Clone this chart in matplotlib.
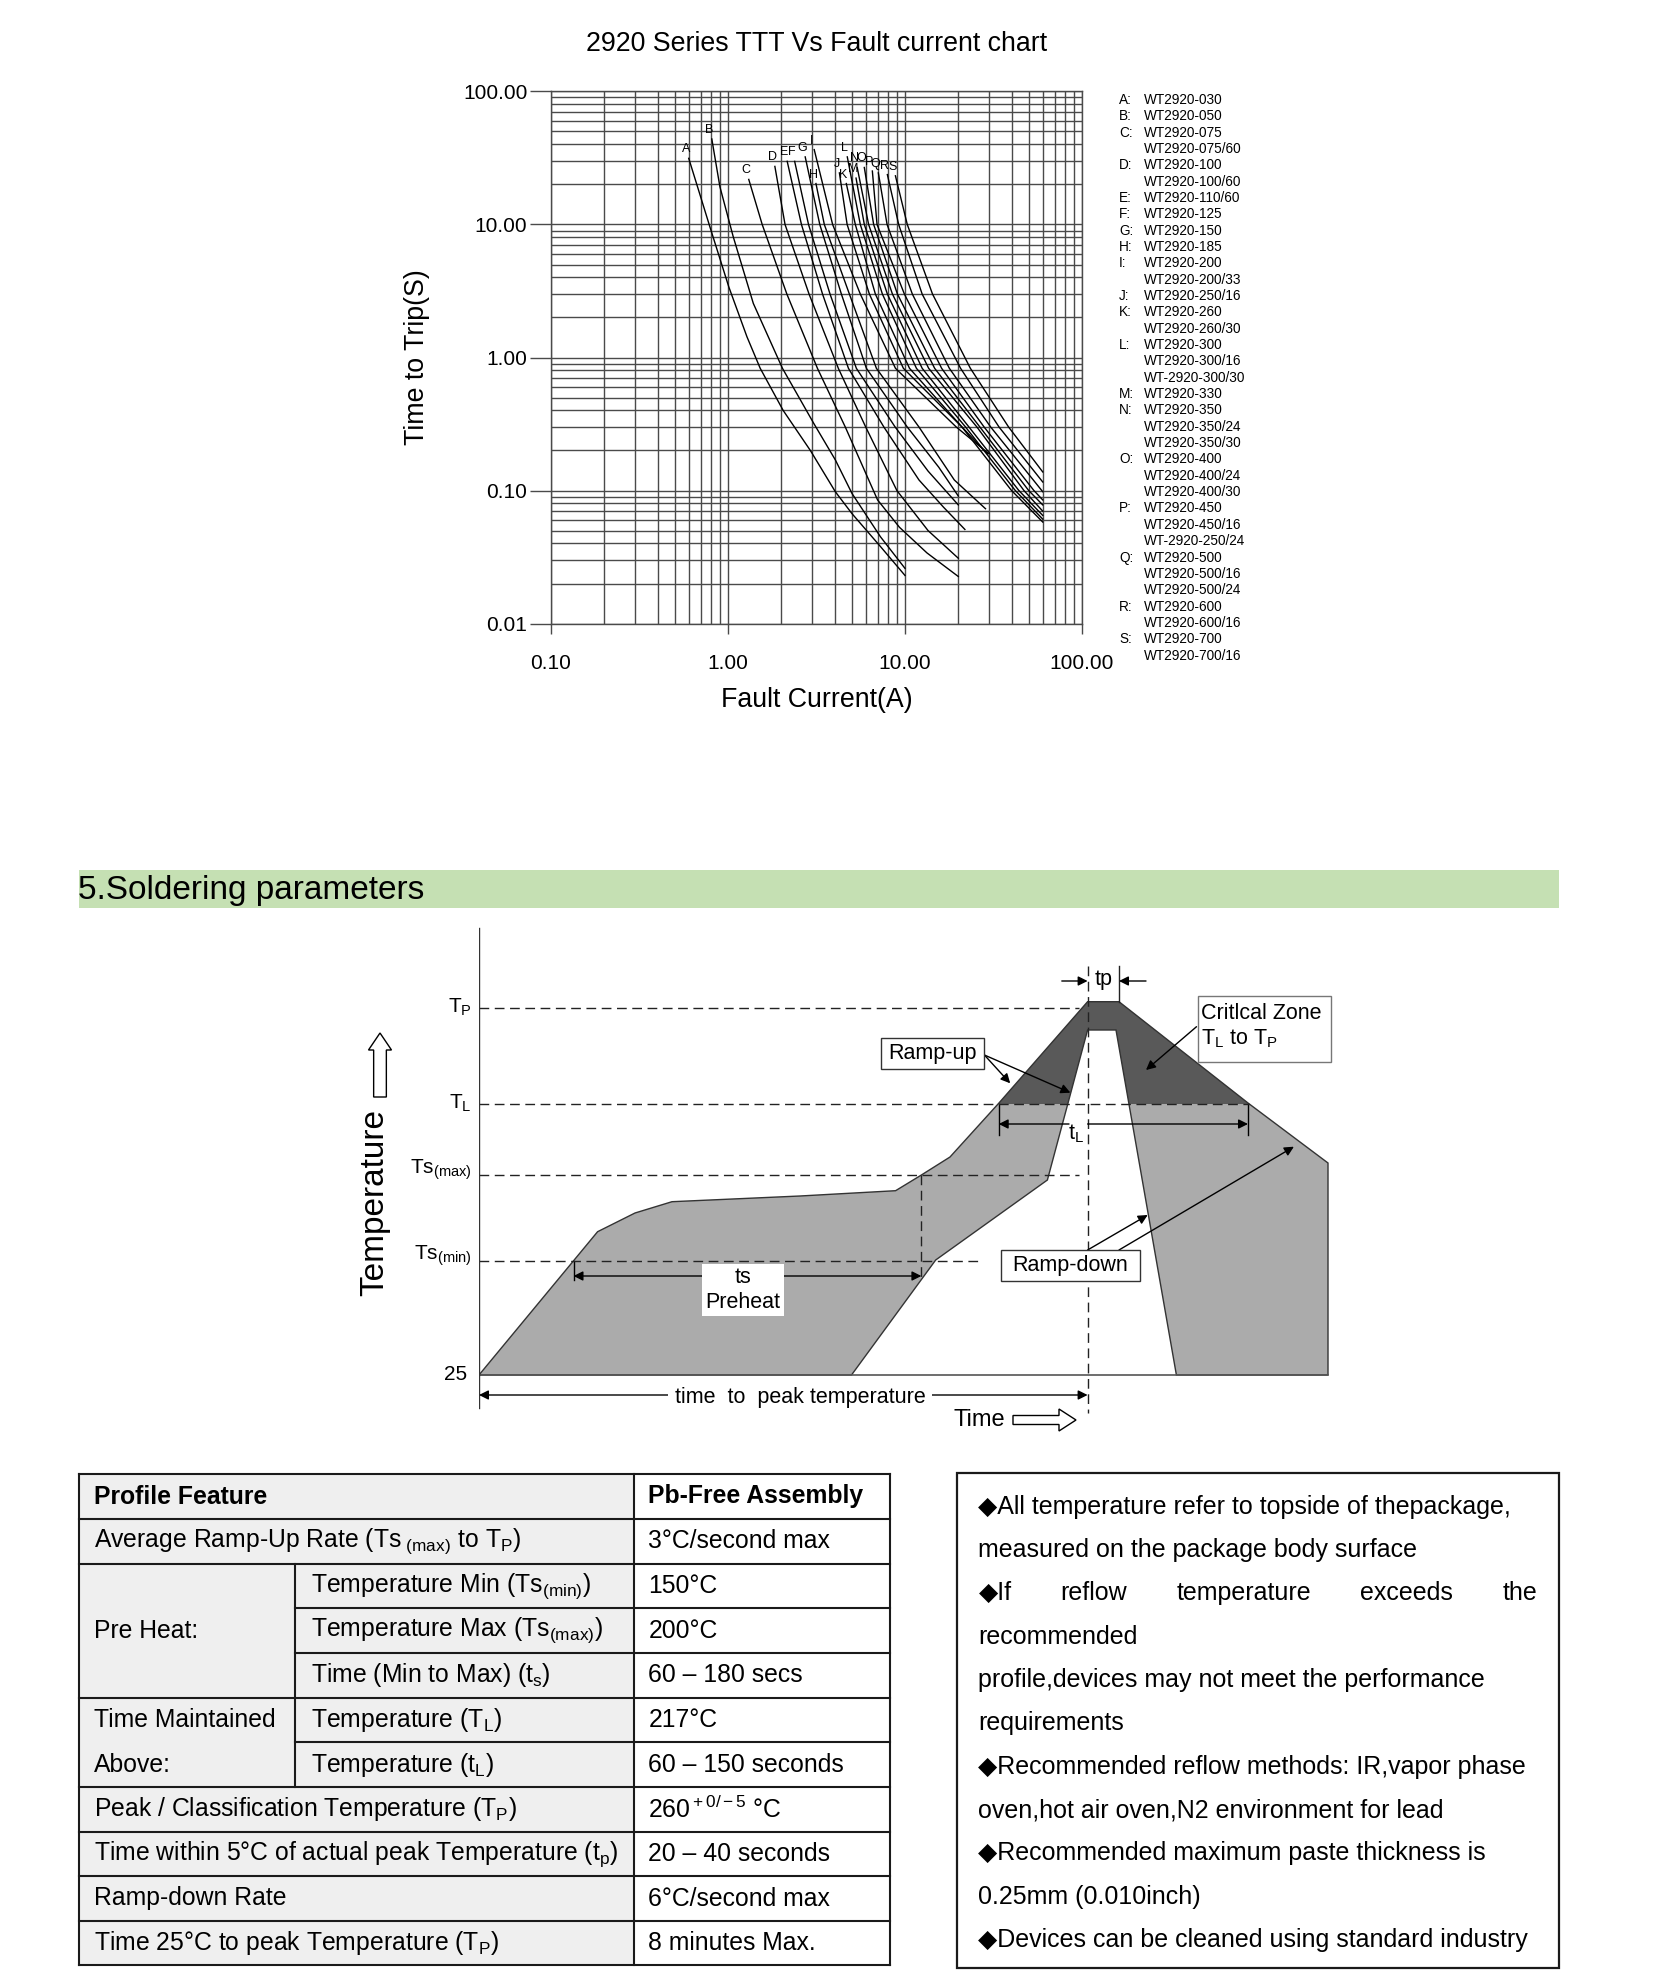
import numpy as np
import matplotlib
matplotlib.use("Agg")
import matplotlib.pyplot as plt
from matplotlib.patches import Rectangle, Polygon, FancyArrow
from matplotlib.ticker import NullFormatter

plt.rcParams["font.family"] = ["Liberation Sans", "DejaVu Sans"]
plt.rcParams["mathtext.fontset"] = "custom"
plt.rcParams["mathtext.rm"] = "Liberation Sans"
plt.rcParams["mathtext.it"] = "Liberation Sans:italic"
plt.rcParams["mathtext.bf"] = "Liberation Sans:bold"

W, H = 1653, 1984

# ---- trip curves: fault current (A) / time to trip (s)
a_current = [0.60, 0.79, 1.01, 1.28, 1.52, 2.05, 2.92, 4.04, 5.02, 7.26, 10.0]
a_time = [31.4, 9.6, 3.4, 1.43, 0.83, 0.40, 0.20, 0.098, 0.067, 0.038, 0.023]
b_current = [0.81, 0.90, 1.07, 1.39, 2.03, 3.05, 4.04, 5.02, 7.26, 10.0]
b_time = [43.9, 19.2, 8.1, 2.55, 0.83, 0.32, 0.17, 0.095, 0.045, 0.026]
c_current = [1.31, 1.56, 2.15, 3.2, 4.6, 7.0, 9.3, 13.3, 20.0]
c_time = [21.8, 10.0, 3.0, 0.83, 0.30, 0.085, 0.053, 0.034, 0.0226]
d_current = [1.84, 2.1, 2.87, 4.2, 6.0, 9.0, 13.5, 20.0]
d_time = [27.3, 10.0, 3.0, 0.83, 0.30, 0.10, 0.05, 0.031]
e_current = [2.16, 2.6, 3.42, 4.79, 7.6, 12.0, 16.5, 21.8]
e_time = [29.8, 10.0, 3.0, 0.83, 0.30, 0.12, 0.075, 0.051]
f_current = [2.38, 2.85, 3.77, 5.31, 8.8, 13.5, 20.0]
f_time = [29.8, 10.0, 3.0, 0.83, 0.30, 0.14, 0.078]
g_current = [2.73, 3.3, 4.37, 6.05, 10.3, 15.5, 20.0]
g_time = [32.2, 10.0, 3.0, 0.83, 0.30, 0.15, 0.091]
h_current = [3.14, 3.5, 4.85, 6.89, 12.0, 19.0, 28.5]
h_time = [20.3, 10.0, 3.0, 0.83, 0.30, 0.12, 0.073]
i_current = [3.07, 3.9, 5.59, 8.83, 19.5, 29.6]
i_time = [36.5, 10.0, 3.0, 0.83, 0.30, 0.19]
j_current = [4.26, 4.71, 6.29, 9.79, 21.0, 29.3]
j_time = [24.4, 10.0, 3.0, 0.83, 0.30, 0.188]
k_current = [4.66, 5.24, 6.80, 10.6, 21.0, 40.0, 60.0]
k_time = [20.3, 10.0, 3.0, 0.83, 0.30, 0.10, 0.058]
l_current = [4.72, 5.59, 7.45, 11.6, 22.0, 42.0, 60.0]
l_time = [32.2, 10.0, 3.0, 0.83, 0.30, 0.10, 0.061]
m_current = [5.29, 5.89, 7.95, 12.5, 23.0, 44.0, 60.0]
m_time = [22.3, 10.0, 3.0, 0.83, 0.30, 0.10, 0.065]
n_current = [5.37, 6.23, 8.49, 13.6, 25.5, 47.0, 60.0]
n_time = [26.8, 10.0, 3.0, 0.83, 0.30, 0.10, 0.070]
o_current = [5.89, 6.65, 9.06, 14.7, 26.5, 50.0, 60.0]
o_time = [26.8, 10.0, 3.0, 0.83, 0.30, 0.10, 0.078]
p_current = [6.54, 6.95, 9.92, 16.1, 28.0, 53.5, 60.0]
p_time = [25.2, 10.0, 3.0, 0.83, 0.30, 0.10, 0.085]
q_current = [7.07, 7.92, 11.0, 17.8, 30.5, 60.0]
q_time = [24.4, 10.0, 3.0, 0.83, 0.30, 0.098]
r_current = [7.95, 9.21, 12.5, 20.6, 34.0, 60.0]
r_time = [23.7, 10.0, 3.0, 0.83, 0.30, 0.116]
s_current = [8.83, 10.3, 14.3, 23.4, 38.5, 60.0]
s_time = [23.2, 10.0, 3.0, 0.83, 0.30, 0.138]

curves = [("A", a_current, a_time), ("B", b_current, b_time), ("C", c_current, c_time),
          ("D", d_current, d_time), ("E", e_current, e_time), ("F", f_current, f_time),
          ("G", g_current, g_time), ("H", h_current, h_time), ("I", i_current, i_time),
          ("J", j_current, j_time), ("K", k_current, k_time), ("L", l_current, l_time),
          ("M", m_current, m_time), ("N", n_current, n_time), ("O", o_current, o_time),
          ("P", p_current, p_time), ("Q", q_current, q_time), ("R", r_current, r_time),
          ("S", s_current, s_time)]

x_ticks = [0.1, 1, 10, 100]
x_tick_labels = ["0.10", "1.00", "10.00", "100.00"]
y_ticks = [0.01, 0.1, 1, 10, 100]
y_tick_labels = ["0.01", "0.10", "1.00", "10.00", "100.00"]

legend_letters = list("ABCDEFGHIJKLMNOPQRS")
legend_parts = [["WT2920-030"], ["WT2920-050"], ["WT2920-075", "WT2920-075/60"],
                ["WT2920-100", "WT2920-100/60"], ["WT2920-110/60"], ["WT2920-125"],
                ["WT2920-150"], ["WT2920-185"], ["WT2920-200", "WT2920-200/33"],
                ["WT2920-250/16"], ["WT2920-260", "WT2920-260/30"],
                ["WT2920-300", "WT2920-300/16", "WT-2920-300/30"], ["WT2920-330"],
                ["WT2920-350", "WT2920-350/24", "WT2920-350/30"],
                ["WT2920-400", "WT2920-400/24", "WT2920-400/30"],
                ["WT2920-450", "WT2920-450/16", "WT-2920-250/24"],
                ["WT2920-500", "WT2920-500/16", "WT2920-500/24"],
                ["WT2920-600", "WT2920-600/16"], ["WT2920-700", "WT2920-700/16"]]

# ---- reflow profile sketch (diagram units, 0 = 25 degC baseline)
profile_x = [0, 118.6, 156, 193, 321, 416.6, 442.4, 471, 519.7, 608.6, 640, 769, 849,
             849, 697.4, 637, 608.6, 568.4, 456.7, 372.5]
profile_y = [0, 143.3, 162, 173.3, 179, 184.3, 200, 218, 271.7, 373.3, 373.3, 272, 212,
             0, 0, 345, 345, 195, 115, 0]
level_names = [r"T$_{\rm P}$", r"T$_{\rm L}$", r"Ts$_{\rm (max)}$", r"Ts$_{\rm (min)}$", "25"]
level_y = [367.5, 271.3, 200.4, 114.4, 0]

# ---- table
table_feature = ["Profile Feature",
                 r"Average Ramp-Up Rate (Ts$_{\rm\ (max)}$ to T$_{\rm P}$)",
                 None, "Pre Heat:", None,
                 "Time Maintained", "Above:",
                 r"Peak / Classification Temperature (T$_{\rm P}$)",
                 r"Time within 5°C of actual peak Temperature (t$_{\rm p}$)",
                 "Ramp-down Rate",
                 r"Time 25°C to peak Temperature (T$_{\rm P}$)"]
table_group = [0, 1, 2, 2, 2, 3, 3, 4, 5, 6, 7]
table_sub = [None, None, r"Temperature Min (Ts$_{\rm (min)}$)",
             r"Temperature Max (Ts$_{\rm (max)}$)", r"Time (Min to Max) (t$_{\rm s}$)",
             r"Temperature (T$_{\rm L}$)", r"Temperature (t$_{\rm L}$)",
             None, None, None, None]
table_value = ["Pb-Free Assembly", "3°C/second max", "150°C", "200°C", "60 – 180 secs",
               "217°C", "60 – 150 seconds", r"260$^{\rm +0/-5}$ °C", "20 – 40 seconds",
               "6°C/second max", "8 minutes Max."]

notes_lines = ["◆All temperature refer to topside of thepackage,",
               "measured on the package body surface",
               "◆If reflow temperature exceeds the",
               "recommended",
               "profile,devices may not meet the performance",
               "requirements",
               "◆Recommended reflow methods: IR,vapor phase",
               "oven,hot air oven,N2 environment for lead",
               "◆Recommended maximum paste thickness is",
               "0.25mm (0.010inch)",
               "◆Devices can be cleaned using standard industry"]
notes_justified = [2]


def box(x0, y0, x1, y1):
    # page pixels -> figure fraction
    return [x0 / W, 1 - y1 / H, (x1 - x0) / W, (y1 - y0) / H]


fig = plt.figure(figsize=(W / 100, H / 100), dpi=100)
page = fig.add_axes([0, 0, 1, 1])
page.set_xlim(0, W)
page.set_ylim(H, 0)
page.axis("off")

# ================= TTT chart =================
gc = "#4a4a4a"
ax = fig.add_axes(box(551, 91.4, 1082, 623.6))
ax.set_xscale("log")
ax.set_yscale("log")
ax.set_xlim(0.1, 100)
ax.set_ylim(0.01, 100)
ax.grid(True, which="both", color=gc, lw=1.0)
ax.set_xticks(x_ticks)
ax.set_xticklabels(x_tick_labels)
ax.set_yticks(y_ticks)
ax.set_yticklabels(y_tick_labels)
ax.xaxis.set_minor_formatter(NullFormatter())
ax.yaxis.set_minor_formatter(NullFormatter())
ax.tick_params(which="minor", length=0)
ax.tick_params(axis="y", which="major", length=15, width=1, pad=2, labelsize=15, color=gc)
ax.tick_params(axis="x", which="major", length=7, width=1, pad=15, labelsize=15, color=gc)
for s in ax.spines.values():
    s.set_color(gc)
    s.set_linewidth(1.0)

for name, cur, tim in curves:
    ax.plot(cur, tim, color="black", lw=1.0)
    ax.annotate(name, xy=(cur[0], tim[0]), xytext=(-2, 6.5), textcoords="offset points",
                ha="center", va="center", fontsize=9)

ax.set_title("2920 Series TTT Vs Fault current chart", fontsize=19.3, pad=29)
ax.set_xlabel("Fault Current(A)", fontsize=19.3)
ax.set_ylabel("Time to Trip(S)", fontsize=19.3)
ax.xaxis.set_label_coords(0.5, -0.12)
ax.yaxis.set_label_coords(-0.228, 0.5)

# legend column
row = 0
for letter, parts in zip(legend_letters, legend_parts):
    for k, part in enumerate(parts):
        yy = 100 + row * 16.34
        if k == 0:
            page.text(1119, yy, letter + ":", fontsize=9.8, ha="left", va="center")
        page.text(1144, yy, part, fontsize=9.8, ha="left", va="center")
        row += 1

# ================= section header =================
page.add_patch(Rectangle((78.5, 869.5), 1480.5, 38, fc="#c5e0b3", ec="none"))
page.text(78.5, 890, "5.Soldering parameters", fontsize=24, ha="left", va="center")

# ================= reflow profile =================
sol = fig.add_axes(box(479, 925, 1339, 1435))
sol.set_xlim(0, 860)
sol.set_ylim(-60, 450)
sol.axis("off")

verts = np.column_stack([profile_x, profile_y])
sol.add_patch(Polygon(verts, closed=True, fc="#ababab", ec="none", zorder=1))
dark = Polygon(verts, closed=True, fc="#595959", ec="none", zorder=1.5)
sol.add_patch(dark)
dark.set_clip_path(Rectangle((0, level_y[1]), 900, 300, transform=sol.transData))
sol.add_patch(Polygon(verts, closed=True, fill=False, ec="#333333", lw=1.0, zorder=2))
sol.plot([0, 849], [0, 0], color="#555555", lw=1.2, zorder=2)

dash = (0, (7, 4))
dash_ends = [600, 770, 600, 503]
for yv, xe in zip(level_y[:4], dash_ends):
    sol.plot([0, xe], [yv, yv], color="#222222", lw=1.0, ls=dash, zorder=3)
for name, yv in zip(level_names, level_y):
    sol.text(-7 if yv > 0 else -12, yv + (5 if "Ts" in name else 0), name,
             fontsize=15, ha="right", va="center")
sol.plot([-8, 0], [0, 0], color="#333333", lw=1.0)
sol.plot([0, 0], [447, -32.5], color="#333333", lw=1.0, zorder=3)

sol.plot([608.6, 608.6], [409, -38], color="#222222", lw=1.0, ls=dash, zorder=3)
sol.plot([442.4, 442.4], [200.4, 97], color="#222222", lw=1.0, ls=dash, zorder=3)
sol.plot([640, 640], [373.3, 409], color="#222222", lw=1.0, zorder=3)


def arrow(x0, y0, x1, y1, style="-|>"):
    sol.annotate("", xy=(x1, y1), xytext=(x0, y0), zorder=4,
                 arrowprops=dict(arrowstyle=style, color="black", lw=1.0,
                                 shrinkA=0, shrinkB=0, mutation_scale=14))


# tp
arrow(582.8, 394, 608.6, 394)
arrow(667, 394, 640, 394)
sol.text(624.6, 396, "tp", fontsize=15.5, ha="center", va="center")

# tL
sol.plot([519.7, 519.7], [271.3, 240], color="black", lw=1.0)
sol.plot([769, 769], [271.3, 240], color="black", lw=1.0)
arrow(590, 251, 519.7, 251)
arrow(608.6, 251, 769, 251)
sol.text(597, 241, r"t$_{\rm L}$", fontsize=15.5, ha="center", va="center")

# ts preheat
sol.plot([94.5, 94.5], [114.4, 95], color="black", lw=1.0)
arrow(94.5, 99, 442.4, 99, style="<|-|>")
sol.text(264, 85, "ts\nPreheat", fontsize=15.5, ha="center", va="center", zorder=5,
         bbox=dict(boxstyle="square,pad=0.15", fc="white", ec="none"))

# time to peak
arrow(0, -20, 608.6, -20, style="<|-|>")
sol.text(321, -23, "time  to  peak temperature", fontsize=15.5, ha="center", va="center",
         zorder=5, bbox=dict(boxstyle="square,pad=0.3", fc="white", ec="none"))
sol.text(500, -45, "Time", fontsize=17, ha="center", va="center")
sol.add_patch(FancyArrow(534, -45, 63, 0, width=9, head_width=22, head_length=17,
                         length_includes_head=True, fc="white", ec="black", lw=1.0,
                         clip_on=False))
sol.text(-104, 172, "Temperature", fontsize=24, rotation=90, ha="center", va="center")
sol.add_patch(FancyArrow(-99, 278, 0, 64, width=12.7, head_width=23, head_length=17,
                         length_includes_head=True, fc="white", ec="black", lw=1.0,
                         clip_on=False))

# callout boxes
sol.add_patch(Rectangle((402, 306), 103.4, 31, fc="white", ec="#333333", lw=1.0, zorder=5))
sol.text(453.7, 321.5, "Ramp-up", fontsize=15.5, ha="center", va="center", zorder=6)
arrow(505.4, 320, 531.2, 291.7)
arrow(505.4, 320, 591.4, 282.3)

sol.add_patch(Rectangle((718.6, 313.3), 133.4, 65.7, fc="white", ec="#777777", lw=1.0, zorder=5))
sol.text(722, 361.5, "Critlcal Zone", fontsize=15.5, ha="left", va="center", zorder=6)
sol.text(722, 336, r"T$_{\rm L}$ to T$_{\rm P}$", fontsize=15.5, ha="left", va="center", zorder=6)
arrow(717.5, 348.3, 667, 305)

sol.add_patch(Rectangle((521.5, 94), 139.8, 31, fc="white", ec="#333333", lw=1.0, zorder=5))
sol.text(591.4, 109.5, "Ramp-down", fontsize=15.5, ha="center", va="center", zorder=6)
arrow(608.6, 125, 668.7, 160)
arrow(640, 125, 814.9, 228.3)

# ================= table =================
col_x = [78.5, 295, 633.5, 890]
row_y = [1474, 1519, 1563.7, 1608.3, 1652.7, 1697.7, 1742.3, 1787, 1831.7, 1876.3,
         1920.7, 1965]
page.add_patch(Rectangle((col_x[0], row_y[0]), col_x[2] - col_x[0], row_y[-1] - row_y[0],
                         fc="#efefef", ec="none"))
lc = "#1a1a1a"
for i in range(len(row_y)):
    x_start = col_x[0]
    if 0 < i < len(row_y) - 1 and table_group[i - 1] == table_group[i]:
        x_start = col_x[1]
    page.plot([x_start, col_x[3]], [row_y[i], row_y[i]], color=lc, lw=1.5)
for xv in (col_x[0], col_x[2], col_x[3]):
    page.plot([xv, xv], [row_y[0], row_y[-1]], color=lc, lw=1.5)
sub_rows = [i for i, s in enumerate(table_sub) if s is not None]
page.plot([col_x[1], col_x[1]], [row_y[sub_rows[0]], row_y[sub_rows[-1] + 1]], color=lc, lw=1.5)

fs_tab = 17.8
for i in range(len(table_feature)):
    yc = (row_y[i] + row_y[i + 1]) / 2
    weight = "bold" if i == 0 else "normal"
    if table_feature[i] is not None:
        page.text(col_x[0] + 15, yc, table_feature[i], fontsize=fs_tab, ha="left",
                  va="center", fontweight=weight)
    if table_sub[i] is not None:
        page.text(col_x[1] + 16, yc, table_sub[i], fontsize=fs_tab, ha="left", va="center")
    page.text(col_x[2] + 15, yc, table_value[i], fontsize=fs_tab, ha="left", va="center",
              fontweight=weight)

# ================= notes box =================
page.add_patch(Rectangle((957, 1473), 602, 495, fill=False, ec="#1a1a1a", lw=1.6))
renderer = fig.canvas.get_renderer()
for i, line in enumerate(notes_lines):
    yy = 1506.7 + i * 43.33
    if i in notes_justified:
        words = line.split()
        objs = [page.text(0, yy, w, fontsize=18, ha="left", va="center") for w in words]
        widths = [o.get_window_extent(renderer).width for o in objs]
        gap = (1537 - 978.5 - sum(widths)) / (len(words) - 1)
        xx = 978.5
        for o, wd in zip(objs, widths):
            o.set_x(xx)
            xx += wd + gap
    else:
        page.text(978.5, yy, line, fontsize=18, ha="left", va="center")

fig.savefig("out.png", dpi=100)
